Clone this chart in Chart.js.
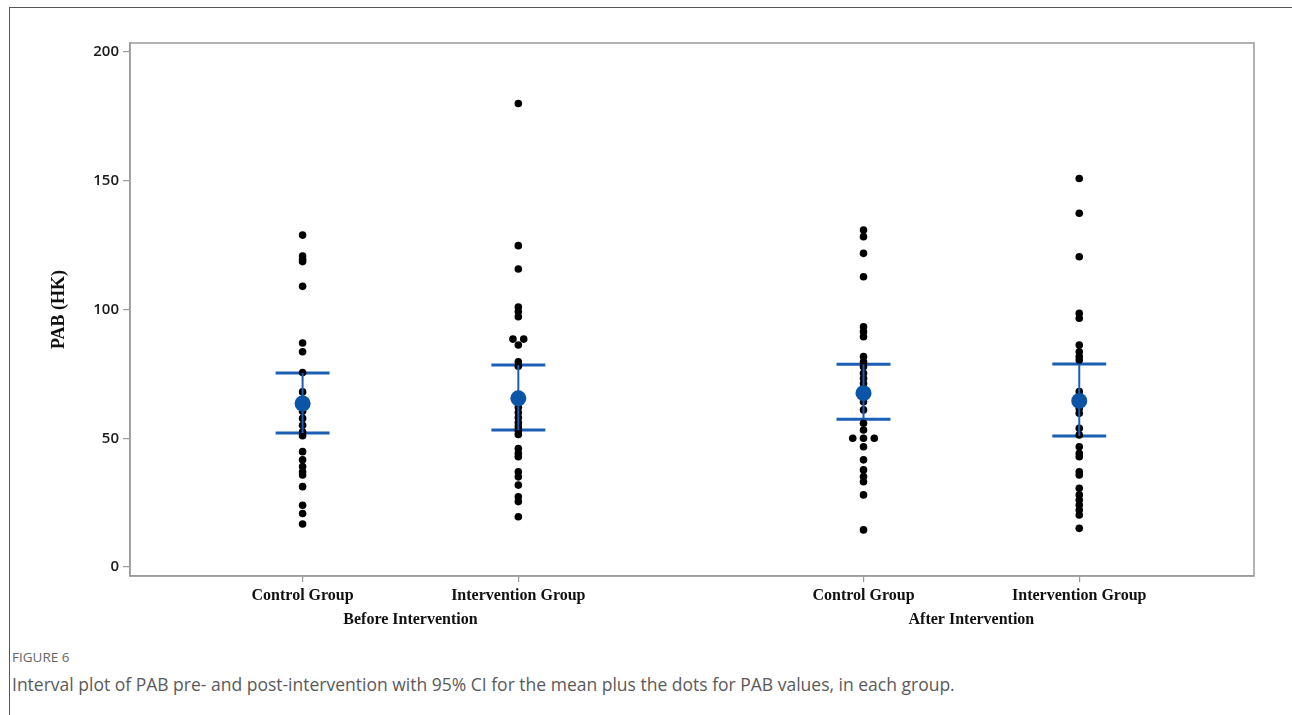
<!DOCTYPE html>
<html>
<head>
<meta charset="utf-8">
<script src="https://cdn.jsdelivr.net/npm/chart.js@4.4.1/dist/chart.umd.min.js"></script>
<style>
 body{margin:0;background:#fff;width:1292px;height:715px;overflow:hidden;position:relative;font-family:"Open Sans",sans-serif}
 #frame{position:absolute;left:9px;top:7px;right:0;bottom:0;border-left:1.5px solid #555;border-top:1.5px solid #555}
 #c{position:absolute;left:0;top:0}
 #fig{position:absolute;left:12px;top:648px;font-size:13.5px;color:#666}
 #cap{position:absolute;left:12px;top:672px;font-size:17.5px;color:#5a5a5a}
</style>
</head>
<body>
<div id="frame"></div>
<canvas id="c" width="1292" height="640"></canvas>
<div id="fig">FIGURE 6</div>
<div id="cap">Interval plot of PAB pre- and post-intervention with 95% CI for the mean plus the dots for PAB values, in each group.</div>
<script>
// groups and where they sit on the x axis
const groupNames=["Control Group","Intervention Group","Control Group","Intervention Group"];
const groupPos=[1,2,3.6,4.6];
const phaseNames=["Before Intervention","After Intervention"];
const yTicks=[0,50,100,150,200];

// individual PAB values
const controlBefore=[128.9,120.8,119.5,118.6,109,87,83.6,75.5,68,60.5,57.7,55,52.5,51,44.8,41.6,39,37,35.7,31.2,24,20.8,16.7];
const interventionBefore=[180,124.8,115.7,101,99.2,97.2,88.5,88.5,86.2,79.7,78,62,60,58,56,54.5,53,51.5,46,44.2,42.8,37,35,31.8,27.3,25.4,19.5];
const controlAfter=[130.9,128.3,121.8,112.7,93.3,91.4,89.4,81.7,79.7,77.8,75.2,73.3,71.3,64.2,61,55.8,53.2,50,50,50,46.7,41.6,37.7,35.1,33.1,28,14.4];
const interventionAfter=[150.9,137.4,120.5,98.5,96.6,86.2,83.6,81.7,80.4,68.1,61.6,59.7,53.9,51.3,46.7,44.2,42.8,37,35.7,30.6,28,26,24.1,22.1,20.2,15];

// mean and 95% CI
const means=[63.5,65.5,67.5,64.5];
const ciUpper=[75.3,78.4,78.7,78.8];
const ciLower=[52.0,53.2,57.4,50.9];

const blue="#1a5fb4", meanBlue="#0a55a8", axisGray="#9a9a9a";
const capHalf=0.125, tieStep=0.05;

// equal values sit side by side
function dotsFor(values,pos){
 const count={},seen={};
 values.forEach(v=>count[v]=(count[v]||0)+1);
 return values.map(v=>{
  const i=seen[v]=(seen[v]||0);seen[v]++;
  return {x:pos+(i-(count[v]-1)/2)*tieStep,y:v};
 });
}

const allValues=[controlBefore,interventionBefore,controlAfter,interventionAfter];
const datasets=[];
allValues.forEach((vals,g)=>{
 const p=groupPos[g];
 datasets.push({data:dotsFor(vals,p),pointRadius:3.8,pointBackgroundColor:"#000",pointBorderWidth:0,showLine:false,order:2});
 datasets.push({data:[{x:p-capHalf,y:ciUpper[g]},{x:p+capHalf,y:ciUpper[g]}],showLine:true,borderColor:blue,borderWidth:3,pointRadius:0,order:3});
 datasets.push({data:[{x:p-capHalf,y:ciLower[g]},{x:p+capHalf,y:ciLower[g]}],showLine:true,borderColor:blue,borderWidth:3,pointRadius:0,order:3});
 datasets.push({data:[{x:p,y:ciLower[g]},{x:p,y:ciUpper[g]}],showLine:true,borderColor:blue,borderWidth:2,pointRadius:0,order:1});
});
datasets.push({data:groupPos.map((p,g)=>({x:p,y:means[g]})),showLine:false,pointRadius:8,pointBackgroundColor:meanBlue,pointBorderWidth:0,order:0});

const boxAndPhases={
 id:"boxAndPhases",
 afterDraw(chart){
  const {ctx,chartArea:a,scales:{x}}=chart;
  ctx.save();
  ctx.strokeStyle=axisGray;ctx.lineWidth=1.5;
  ctx.strokeRect(a.left,a.top,a.right-a.left,a.bottom-a.top);
  ctx.fillStyle="#111";
  ctx.font="bold 16px 'Liberation Serif'";
  ctx.textAlign="center";ctx.textBaseline="middle";
  phaseNames.forEach((n,i)=>{
   const cx=(x.getPixelForValue(groupPos[i*2])+x.getPixelForValue(groupPos[i*2+1]))/2;
   ctx.fillText(n,cx,a.bottom+44);
  });
  ctx.restore();
 }
};

new Chart(document.getElementById("c"),{
 type:"scatter",
 data:{datasets},
 options:{
  responsive:false,animation:false,
  layout:{padding:{left:30,top:43,right:38,bottom:0}},
  plugins:{legend:{display:false},tooltip:{enabled:false}},
  scales:{
   x:{type:"linear",min:0.2,max:5.41,
    afterBuildTicks:s=>{s.ticks=groupPos.map(v=>({value:v}));},
    afterFit:s=>{s.height=64;},
    grid:{display:true,drawOnChartArea:false,drawTicks:true,tickLength:6,color:axisGray,lineWidth:1.2},
    border:{color:axisGray,width:1.5},
    ticks:{autoSkip:false,maxRotation:0,padding:4,color:"#111",font:{family:"Liberation Serif",weight:"bold",size:16},
     callback:(v,i)=>groupNames[i]}
   },
   y:{min:-3.5,max:203.5,
    afterBuildTicks:s=>{s.ticks=yTicks.map(v=>({value:v}));},
    afterFit:s=>{s.width=100;},
    grid:{display:true,drawOnChartArea:false,drawTicks:true,tickLength:7,color:axisGray,lineWidth:1.2},
    border:{color:axisGray,width:1.5},
    ticks:{padding:4,color:"#1a1a1a",font:{family:"Open Sans",size:15,weight:"600"}},
    title:{display:true,text:"PAB (HK)",color:"#111",padding:{top:19,bottom:0},font:{family:"Liberation Serif",weight:"bold",size:18}}
   }
  }
 },
 plugins:[boxAndPhases]
});
</script>
</body>
</html>
